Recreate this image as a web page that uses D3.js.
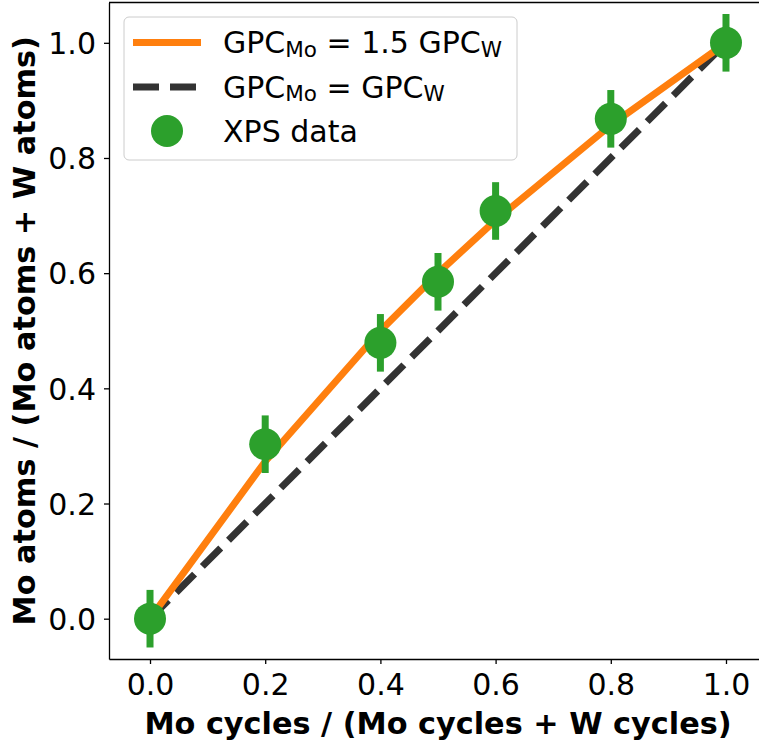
<!DOCTYPE html>
<html>
<head>
<meta charset="utf-8">
<script src="https://cdn.jsdelivr.net/npm/d3@7.9.0/dist/d3.min.js"></script>
<style>
  body { margin: 0; background: #fff; }
  text { font-family: "DejaVu Sans", sans-serif; }
</style>
</head>
<body>
<svg id="chart"></svg>
<script>
// Mo cycle fraction of the XPS samples
const cycleFraction = [0.0, 0.2, 0.4, 0.5, 0.6, 0.8, 1.0];
// measured Mo atom fraction (XPS)
const xpsFraction = [0.0, 0.303, 0.479, 0.585, 0.708, 0.868, 1.0];
const xpsError = [0.05, 0.05, 0.05, 0.05, 0.05, 0.05, 0.05];
// model curve GPC_Mo = 1.5 GPC_W, read at the same x positions
const modelFraction = [0.0, 0.273, 0.5, 0.6, 0.692, 0.857, 1.0];
// model curve GPC_Mo = GPC_W
const equalX = [0.0, 1.0];
const equalY = [0.0, 1.0];
const xTicks = [0.0, 0.2, 0.4, 0.6, 0.8, 1.0];
const yTicks = [0.0, 0.2, 0.4, 0.6, 0.8, 1.0];

const svgWidth = 759;
const svgHeight = 742;
const margin = { top: 2.5, left: 109, bottom: 83 };
const plotRight = 767; // right spine falls just outside the picture

const svg = d3.select("#chart")
    .attr("width", svgWidth)
    .attr("height", svgHeight);

const xScale = d3.scaleLinear().domain([-0.0712, 1.0712]).range([margin.left, plotRight]);
const yScale = d3.scaleLinear().domain([-0.07, 1.07]).range([svgHeight - margin.bottom, margin.top]);

const orange = "#ff7f0e";
const green = "#2ca02c";
const dark = "#333333";

// dashed 1:1 line
svg.append("path")
    .datum(equalX.map((x, i) => [x, equalY[i]]))
    .attr("d", d3.line().x(d => xScale(d[0])).y(d => yScale(d[1])))
    .attr("fill", "none")
    .attr("stroke", dark)
    .attr("stroke-width", 7)
    .attr("stroke-dasharray", "26 11");

// 1.5 model line
svg.append("path")
    .datum(cycleFraction.map((x, i) => [x, modelFraction[i]]))
    .attr("d", d3.line().x(d => xScale(d[0])).y(d => yScale(d[1])))
    .attr("fill", "none")
    .attr("stroke", orange)
    .attr("stroke-width", 7)
    .attr("stroke-linejoin", "round");

// xps points with error bars
const pts = svg.append("g");
cycleFraction.forEach((x, i) => {
    pts.append("line")
        .attr("x1", xScale(x)).attr("x2", xScale(x))
        .attr("y1", yScale(xpsFraction[i] - xpsError[i]))
        .attr("y2", yScale(xpsFraction[i] + xpsError[i]))
        .attr("stroke", green)
        .attr("stroke-width", 7);
    pts.append("circle")
        .attr("cx", xScale(x))
        .attr("cy", yScale(xpsFraction[i]))
        .attr("r", 16)
        .attr("fill", green);
});

// axes
const xAxis = d3.axisBottom(xScale).tickValues(xTicks).tickFormat(d3.format(".1f"))
    .tickSize(5).tickPadding(9.5).tickSizeOuter(0);
const yAxis = d3.axisLeft(yScale).tickValues(yTicks).tickFormat(d3.format(".1f"))
    .tickSize(5).tickPadding(8).tickSizeOuter(0);

const gx = svg.append("g")
    .attr("transform", `translate(0, ${svgHeight - margin.bottom})`)
    .call(xAxis);
const gy = svg.append("g")
    .attr("transform", `translate(${margin.left}, 0)`)
    .call(yAxis);

[gx, gy].forEach(g => {
    g.select(".domain").attr("stroke", "#000").attr("stroke-width", 1.3);
    g.selectAll(".tick line").attr("stroke", "#000").attr("stroke-width", 1.3);
    g.selectAll(".tick text")
        .attr("fill", "#000")
        .style("font-family", "'DejaVu Sans'")
        .style("font-size", "30px");
});
gy.selectAll(".tick text").attr("dy", "0.36em");

// top and right spines
svg.append("line")
    .attr("x1", margin.left).attr("x2", plotRight)
    .attr("y1", margin.top).attr("y2", margin.top)
    .attr("stroke", "#000").attr("stroke-width", 1.3);
svg.append("line")
    .attr("x1", plotRight).attr("x2", plotRight)
    .attr("y1", margin.top).attr("y2", svgHeight - margin.bottom)
    .attr("stroke", "#000").attr("stroke-width", 1.3);

// axis labels
svg.append("text")
    .attr("x", (margin.left + plotRight) / 2)
    .attr("y", 734)
    .attr("text-anchor", "middle")
    .style("font-size", "30.3px")
    .style("font-weight", "bold")
    .text("Mo cycles / (Mo cycles + W cycles)");

svg.append("text")
    .attr("transform", `translate(34.5, ${(margin.top + svgHeight - margin.bottom) / 2}) rotate(-90)`)
    .attr("text-anchor", "middle")
    .style("font-size", "30.3px")
    .style("font-weight", "bold")
    .text("Mo atoms / (Mo atoms + W atoms)");

// legend
const legend = svg.append("g");
legend.append("rect")
    .attr("x", 124).attr("y", 17)
    .attr("width", 393).attr("height", 143)
    .attr("rx", 5)
    .attr("fill", "#fff").attr("fill-opacity", 0.8)
    .attr("stroke", "#cccccc").attr("stroke-width", 1);

const rowY = [42.5, 87, 131];

legend.append("line")
    .attr("x1", 133).attr("x2", 201)
    .attr("y1", rowY[0]).attr("y2", rowY[0])
    .attr("stroke", orange).attr("stroke-width", 7);
legend.append("line")
    .attr("x1", 133).attr("x2", 201)
    .attr("y1", rowY[1]).attr("y2", rowY[1])
    .attr("stroke", dark).attr("stroke-width", 7)
    .attr("stroke-dasharray", "26 11");
legend.append("circle")
    .attr("cx", 167).attr("cy", rowY[2])
    .attr("r", 16).attr("fill", green);

function legendText(y, parts) {
    const t = legend.append("text")
        .attr("x", 223).attr("y", y + 10.9)
        .style("font-size", "30px");
    parts.forEach(p => {
        const s = t.append("tspan").text(p.text);
        if (p.sub) {
            s.style("font-size", "21.5px").attr("dy", 3.5);
        } else if (p.after) {
            s.attr("dy", -3.5);
        }
    });
}

legendText(rowY[0], [
    { text: "GPC" }, { text: "Mo", sub: true },
    { text: " = 1.5 GPC", after: true }, { text: "W", sub: true }
]);
legendText(rowY[1], [
    { text: "GPC" }, { text: "Mo", sub: true },
    { text: " = GPC", after: true }, { text: "W", sub: true }
]);
legendText(rowY[2], [{ text: "XPS data" }]);
</script>
</body>
</html>
